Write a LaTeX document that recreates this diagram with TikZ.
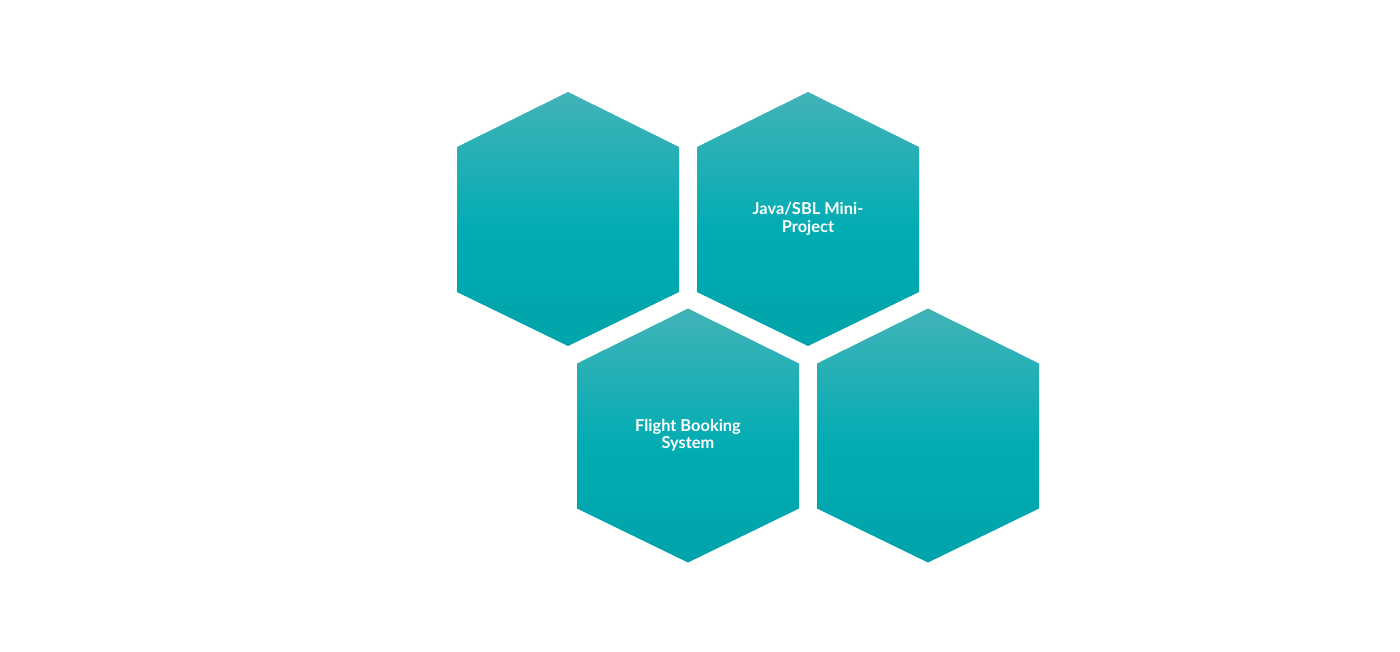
\documentclass[tikz,border=0pt]{standalone}
\usepackage{fontspec}
\setmainfont{Lato}
\definecolor{hexTop}{HTML}{42B3B7}
\definecolor{hexMid}{HTML}{02ACB3}
\definecolor{hexBot}{HTML}{00A3AA}
\pgfdeclareverticalshading{hexshade}{100bp}{color(0bp)=(hexBot); color(25bp)=(hexBot); color(48bp)=(hexMid); color(75bp)=(hexTop); color(100bp)=(hexTop)}
\tikzset{
  hexfill/.style={shading=hexshade, draw=none},
  hexlabel/.style={text=white, font=\bfseries\fontsize{12.3}{13}\selectfont, align=center},
}
\newcommand{\myhex}[4]{%
  \path[hexfill] (#1,#2-127) -- (#1+111,#2-72) -- (#1+111,#2+73) -- (#1,#2+127) -- (#1-111,#2+73) -- (#1-111,#2-72) -- cycle;
  \node[hexlabel] (#3) at (#1,#2) {#4};
}
\begin{document}
\begin{tikzpicture}[x=0.75pt,y=-0.75pt]
\useasboundingbox[fill=white] (0,0) rectangle (1400,652);
\myhex{568}{219}{hexA}{}
\myhex{808}{219}{hexB}{Java/SBL Mini-\\Project}
\myhex{688}{435.5}{hexC}{Flight Booking\\System}
\myhex{928}{435.5}{hexD}{}
\end{tikzpicture}
\end{document}
